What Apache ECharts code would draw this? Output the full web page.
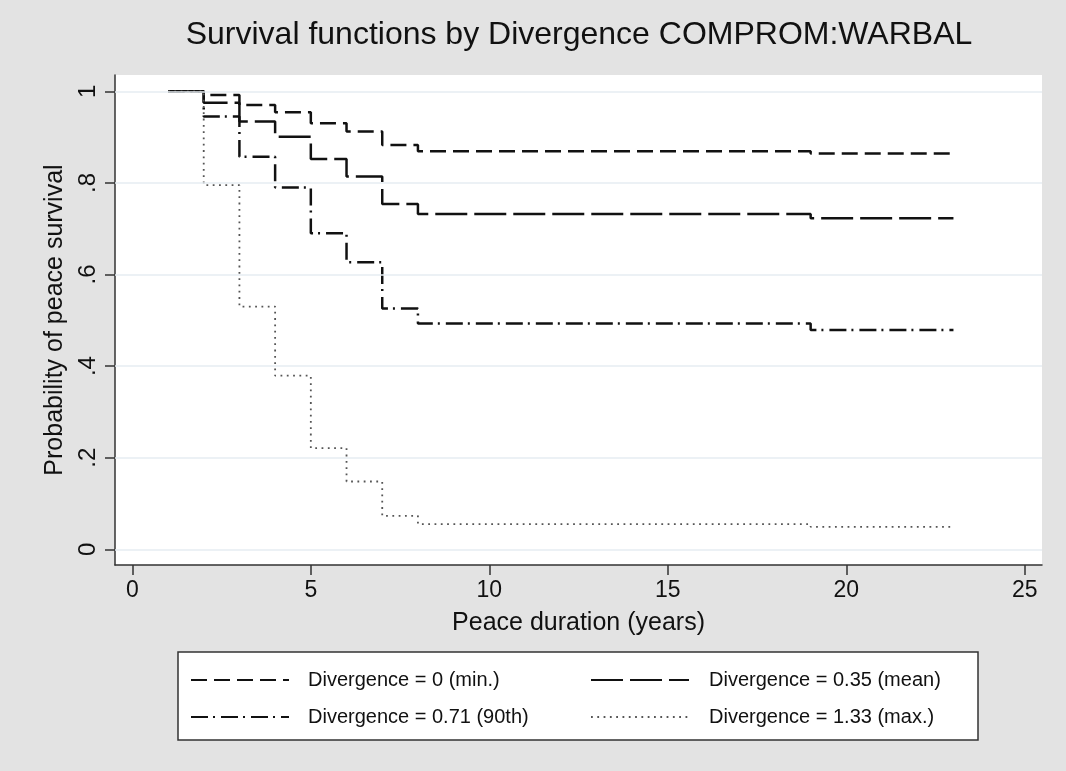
<!DOCTYPE html>
<html>
<head>
<meta charset="utf-8">
<script src="https://cdn.jsdelivr.net/npm/echarts@6/dist/echarts.min.js"></script>
<style>html,body{margin:0;padding:0;background:#e3e3e3;}#chart{width:1066px;height:771px;}</style>
</head>
<body>
<div id="chart"></div>
<script>
// ---- data ----
const years = [1, 2, 3, 4, 5, 6, 7, 8, 19, 23];
const divMin  = [1, 0.992, 0.970, 0.954, 0.930, 0.912, 0.883, 0.869, 0.864, 0.864];
const divMean = [1, 0.975, 0.934, 0.901, 0.852, 0.814, 0.754, 0.732, 0.723, 0.723];
const div90   = [1, 0.945, 0.857, 0.790, 0.690, 0.627, 0.526, 0.493, 0.479, 0.479];
const divMax  = [1, 0.795, 0.530, 0.379, 0.221, 0.148, 0.073, 0.055, 0.049, 0.049];
const seriesNames = ['Divergence = 0 (min.)', 'Divergence = 0.35 (mean)', 'Divergence = 0.71 (90th)', 'Divergence = 1.33 (max.)'];
const xTicks = [0, 5, 10, 15, 20, 25];
const yTicks = [0, 0.2, 0.4, 0.6, 0.8, 1];
const yTickLabels = ['0', '.2', '.4', '.6', '.8', '1'];
const titleText = 'Survival functions by Divergence COMPROM:WARBAL';
const xName = 'Peace duration (years)';
const yName = 'Probability of peace survival';

const toPts = vals => years.map((x, i) => [x, vals[i]]);
const FONT = '"Liberation Sans", Arial, Helvetica, sans-serif';

const chart = echarts.init(document.getElementById('chart'), null, {renderer: 'canvas'});
const mk = (name, vals, ls) => ({
  name: name, type: 'line', step: 'end', symbol: 'none', showSymbol: false,
  data: toPts(vals), lineStyle: ls, itemStyle: {color: ls.color}, animation: false
});

const legendCommon = {
  orient: 'vertical', top: 668, padding: 0, itemGap: 13,
  itemWidth: 98, itemHeight: 14, selectedMode: false,
  itemStyle: {opacity: 0},
};

const option = {
  backgroundColor: '#e3e3e3',
  animation: false,
  title: {
    text: titleText, left: 579, top: 19, textAlign: 'center', padding: 0,
    textStyle: {fontFamily: FONT, fontSize: 32, fontWeight: 'normal', color: '#111'}
  },
  grid: {left: 115, top: 75, width: 927, height: 490, show: true, backgroundColor: '#ffffff', borderWidth: 0},
  xAxis: {
    type: 'value', min: -0.485, max: 25.48,
    name: xName, nameLocation: 'middle', nameGap: 46,
    nameTextStyle: {fontFamily: FONT, fontSize: 25, color: '#111'},
    axisLine: {show: true, onZero: false, lineStyle: {color: '#333', width: 1.5}},
    axisTick: {show: true, customValues: xTicks, length: 10, lineStyle: {color: '#333', width: 1.5}},
    axisLabel: {customValues: xTicks, fontFamily: FONT, fontSize: 23, color: '#111', margin: 14},
    splitLine: {show: false}
  },
  yAxis: {
    type: 'value', min: -0.0343, max: 1.0356,
    name: yName, nameLocation: 'middle', nameGap: 47, nameRotate: 90,
    nameTextStyle: {fontFamily: FONT, fontSize: 25, color: '#111'},
    axisLine: {show: true, onZero: false, lineStyle: {color: '#333', width: 1.5}},
    axisTick: {show: true, customValues: yTicks, length: 10, lineStyle: {color: '#333', width: 1.5}},
    axisLabel: {
      customValues: yTicks, rotate: 90, fontFamily: FONT, fontSize: 24, color: '#111', margin: 15,
      formatter: v => { const i = yTicks.findIndex(t => Math.abs(t - v) < 1e-6); return i >= 0 ? yTickLabels[i] : ''; }
    },
    splitLine: {show: false}
  },
  graphic: [
    {type: 'rect', shape: {x: 178, y: 652, width: 800, height: 88}, style: {fill: '#ffffff', stroke: '#333', lineWidth: 1.5}, z: 0}
  ],
  legend: [
    Object.assign({}, legendCommon, {data: [seriesNames[0], seriesNames[2]], left: 190,
     textStyle: {fontFamily: FONT, fontSize: 20, color: '#111', lineHeight: 24, padding: [0, 0, 0, 14]}}),
    Object.assign({}, legendCommon, {data: [seriesNames[1], seriesNames[3]], left: 590,
     textStyle: {fontFamily: FONT, fontSize: 20, color: '#111', lineHeight: 24, padding: [0, 0, 0, 15]}})
  ],
  series: [
    mk(seriesNames[0], divMin, {color: '#111', width: 2.5, type: [16, 7]}),
    mk(seriesNames[1], divMean, {color: '#111', width: 2.5, type: [32, 7]}),
    mk(seriesNames[2], div90, {color: '#111', width: 2.5, type: [17, 5, 2, 6]}),
    mk(seriesNames[3], divMax, {color: '#555', width: 1.8, type: [1.8, 4.5]}),
    {
      name: 'grid', type: 'line', data: [], silent: true, z: 1,
      markLine: {
        silent: true, symbol: 'none', label: {show: false},
        lineStyle: {color: '#e6edf2', width: 1.5, type: 'solid'},
        data: yTicks.map(v => ({yAxis: v}))
      }
    }
  ]
};
chart.setOption(option);
</script>
</body>
</html>
